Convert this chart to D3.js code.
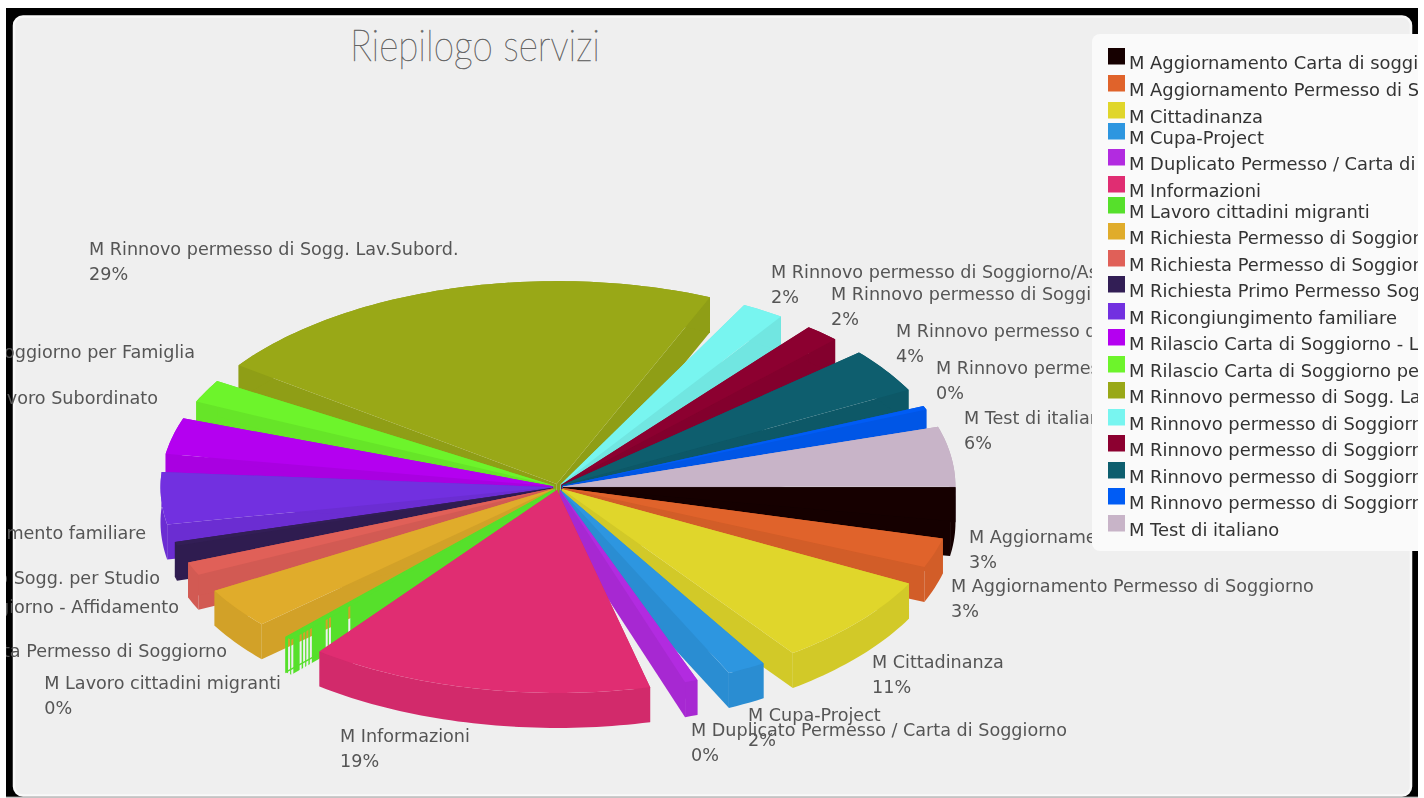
<!DOCTYPE html>
<html>
<head>
<meta charset="utf-8">
<script src="https://cdn.jsdelivr.net/npm/d3@7"></script>
<style>
html, body { margin: 0; padding: 0; background: #fff; overflow: hidden; }
svg { display: block; filter: blur(0.45px); }
text { font-family: "DejaVu Sans", sans-serif; }
</style>
</head>
<body>
<div id="chart"></div>
<script>
var categories = [
	"M Aggiornamento Carta di soggiorno",
	"M Aggiornamento Permesso di Soggiorno",
	"M Cittadinanza",
	"M Cupa-Project",
	"M Duplicato Permesso / Carta di Soggiorno",
	"M Informazioni",
	"M Lavoro cittadini migranti",
	"M Richiesta Permesso di Soggiorno",
	"M Richiesta Permesso di Soggiorno - Affidamento",
	"M Richiesta Primo Permesso Sogg. per Studio",
	"M Ricongiungimento familiare",
	"M Rilascio Carta di Soggiorno - Lavoro Subordinato",
	"M Rilascio Carta di Soggiorno per Famiglia",
	"M Rinnovo permesso di Sogg. Lav.Subord.",
	"M Rinnovo permesso di Soggiorno/Asilo",
	"M Rinnovo permesso di Soggiorno/Motivi",
	"M Rinnovo permesso di Soggiorno/Famiglia",
	"M Rinnovo permesso di Soggiorno/Studio",
	"M Test di italiano"
];
var values = [3.5, 3.1, 9.6, 2.1, 0.7, 18.7, 0.4, 4.3, 1.4, 0.4, 5.45, 3.8, 2.4, 28.3, 2.3, 1.9, 4.7, 0.4, 6.3];
var percents = [3, 3, 11, 2, 0, 19, 0, 4, 1, 0, 5, 4, 2, 29, 2, 2, 4, 0, 6];
var colors = ["#160000", "#e0632b", "#e0d62b", "#2d96e0", "#b22be0", "#e02d72", "#56e02b", "#e0ac2b", "#e06058", "#321e55",
	"#7230e0", "#b400f0", "#6df42b", "#99a817", "#78f5f0", "#8c0030", "#0e5e6e", "#005cf5", "#c8b4c8"];

var width = 1424, height = 798;
var center = {x: 558, y: 487}, rx = 392.5, ry = 203, depth = 35, tipOffset = 5;
var pad = 4.9 * Math.PI / 180;

// where each label starts (or ends, for the ones on the left), first baseline
var labelSpots = [
	[969, 543, "start"], [951, 592, "start"], [872, 668, "start"], [748, 721, "start"], [691, 736, "start"],
	[340, 742, "start"], [281, 689, "end"], [227, 657, "end"], [179, 613, "end"], [160, 584, "end"],
	[146, 539, "end"], [158, 404, "end"], [195, 358, "end"], [89, 255, "start"], [771, 278, "start"],
	[831, 300, "start"], [896, 337, "start"], [936, 374, "start"], [964, 424, "start"]
];
var legendRows = [62, 89, 116, 137, 163, 190, 211, 237, 264, 290, 317, 343, 370, 396, 423, 449, 476, 502, 529];
var wallHoles = [0.012, 0.024, 0.055, 0.068, 0.08, 0.093, 0.152, 0.164, 0.236];

var svg = d3.select("#chart").append("svg")
	.attr("width", width)
	.attr("height", height);

var defs = svg.append("defs");
defs.append("clipPath").attr("id", "pageClip").append("rect")
	.attr("x", 6).attr("y", 0).attr("width", 1412).attr("height", 798);

// black frame and card
svg.append("rect").attr("x", 6).attr("y", 8).attr("width", 1412).attr("height", 789).attr("fill", "#000");
svg.append("rect").attr("x", 6).attr("y", 796.5).attr("width", 1412).attr("height", 1).attr("fill", "#888");
svg.append("rect").attr("x", 14).attr("y", 16.5).attr("width", 1397).attr("height", 779)
	.attr("rx", 9).attr("fill", "#efefef").attr("stroke", "#f9f9f9").attr("stroke-width", 2.5);

var root = svg.append("g").attr("clip-path", "url(#pageClip)");

root.append("text")
	.attr("x", 350).attr("y", 61)
	.attr("textLength", 250).attr("lengthAdjust", "spacingAndGlyphs")
	.style("font-family", "Lato").style("font-weight", 100).style("font-size", "44px")
	.attr("fill", "#666").attr("stroke", "#666").attr("stroke-width", 0.5)
	.text("Riepilogo servizi");

var px = d3.scaleLinear().domain([-1, 1]).range([center.x - rx, center.x + rx]);
var py = d3.scaleLinear().domain([-1, 1]).range([center.y - ry, center.y + ry]);

// no gap is left between the last slice and the first one
var gaps = pad * (values.length - 1);
var pie = d3.pie().sort(null).startAngle(0).endAngle(2 * Math.PI - gaps);
var slices = pie(values).map(function(d, i) {
	var a0 = d.startAngle + i * pad, a1 = d.endAngle + i * pad, mid = (a0 + a1) / 2;
	return {
		i: i, a0: a0, a1: a1, mid: mid,
		ox: Math.cos(mid) * tipOffset, oy: Math.sin(mid) * tipOffset * 0.6
	};
});

function rim(s) {
	var steps = Math.max(2, Math.ceil((s.a1 - s.a0) / 0.02));
	return d3.range(steps + 1).map(function(k) {
		var a = s.a0 + (s.a1 - s.a0) * k / steps;
		return [px(Math.cos(a)) + s.ox, py(Math.sin(a)) + s.oy];
	});
}
var line = d3.line();

function drawSlice(g, s) {
	var c = colors[s.i], wall = d3.color(c).darker(0.18).formatHex();
	var tip = [px(0) + s.ox, py(0) + s.oy];
	var pts = rim(s);
	var down = function(p) { return [p[0], p[1] + depth]; };
	var first = pts[0], last = pts[pts.length - 1];
	var walls = g.append("g");
	var sideLast = line([tip, last, down(last), down(tip)]) + "Z";

	// the thin green slice has holes in its side in the original
	if (categories[s.i] === "M Lavoro cittadini migranti") {
		wall = c;
		var mask = defs.append("mask").attr("id", "wallMask")
			.attr("maskUnits", "userSpaceOnUse")
			.attr("x", 0).attr("y", 0).attr("width", width).attr("height", height);
		mask.append("rect").attr("width", width).attr("height", height).attr("fill", "#fff");
		mask.selectAll("rect.hole").data(wallHoles).join("rect")
			.attr("class", "hole")
			.attr("x", function(f) { return last[0] + (tip[0] - last[0]) * f - 1; })
			.attr("y", 0).attr("width", 2).attr("height", height)
			.attr("fill", "#000");
		walls.attr("mask", "url(#wallMask)");
		g.append("path").attr("d", sideLast).attr("fill", "none").attr("stroke", c).attr("stroke-width", 1.2);
	}

	// two radial walls and the outer wall, then the top
	walls.append("path").attr("d", line([tip, first, down(first), down(tip)]) + "Z").attr("fill", wall);
	walls.append("path").attr("d", sideLast).attr("fill", wall);
	walls.append("path").attr("d", line(pts.concat(pts.map(down).reverse())) + "Z").attr("fill", wall);
	g.append("path").attr("d", line([tip].concat(pts)) + "Z").attr("fill", c);
}

// back to front
var pieG = root.append("g");
slices.slice().sort(function(a, b) { return Math.sin(a.mid) - Math.sin(b.mid); })
	.forEach(function(s) { drawSlice(pieG.append("g"), s); });

// slice labels
categories.forEach(function(name, i) {
	var spot = labelSpots[i];
	var t = root.append("text")
		.attr("y", spot[1])
		.style("font-size", "17.6px")
		.attr("fill", "#555")
		.text(name);
	var w = t.node().getComputedTextLength();
	var x = spot[2] === "end" ? spot[0] - w : spot[0];
	t.attr("x", x);
	root.append("text")
		.attr("x", x).attr("y", spot[1] + 25)
		.style("font-size", "17.6px")
		.attr("fill", "#555")
		.text(percents[i] + "%");
});

// legend
var legend = root.append("g");
legend.append("rect").attr("x", 1092).attr("y", 34).attr("width", 400).attr("height", 517)
	.attr("rx", 8).attr("fill", "#fafafa");
categories.forEach(function(name, i) {
	legend.append("rect")
		.attr("x", 1108).attr("y", legendRows[i] - 14)
		.attr("width", 17).attr("height", 16.5)
		.attr("fill", colors[i]);
	legend.append("text")
		.attr("x", 1129).attr("y", legendRows[i] + 7)
		.style("font-size", "17.9px")
		.attr("fill", "#333")
		.text(name);
});
</script>
</body>
</html>
